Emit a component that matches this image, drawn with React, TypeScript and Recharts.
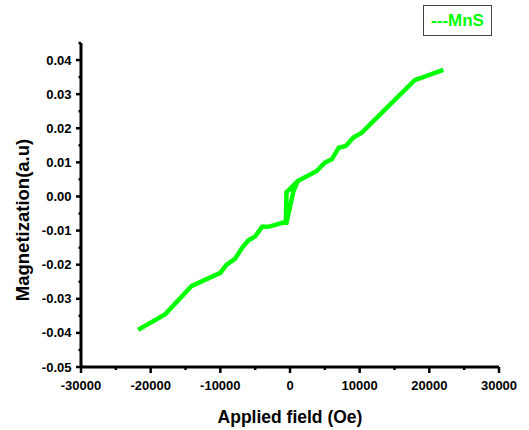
import { LineChart, Line, XAxis, YAxis, Label } from "recharts";

// M-H loop of MnS, increasing field branch
const fieldUp = [-21800, -17900, -14100, -10000, -9100, -7900, -6900, -6000, -5000, -4000, -3100, -1050, -600, -500, -100, 1100, 3800, 5000, 6000, 7000, 8000, 9100, 10300, 17900, 22000];
const momentUp = [-0.0391, -0.0345, -0.0262, -0.0224, -0.02, -0.0183, -0.0151, -0.0129, -0.0117, -0.0089, -0.0089, -0.0077, -0.0075, 0.0013, 0.002, 0.0045, 0.0074, 0.0099, 0.0109, 0.0143, 0.0148, 0.0173, 0.0187, 0.0341, 0.0371];

// decreasing field branch
const fieldDown = [22000, 17900, 10300, 9100, 8000, 7000, 6000, 5000, 3800, 1100, 500, 0, -500, -1050, -3100, -4000, -5000, -6000, -6900, -7900, -9100, -10000, -14100, -17900, -21800];
const momentDown = [0.0371, 0.0341, 0.0187, 0.0173, 0.0148, 0.0143, 0.0109, 0.0099, 0.0074, 0.0045, 0.0016, -0.003, -0.0077, -0.0077, -0.0089, -0.0089, -0.0117, -0.0129, -0.0151, -0.0183, -0.02, -0.0224, -0.0262, -0.0345, -0.0391];

const xMajorTicks = [-30000, -20000, -10000, 0, 10000, 20000, 30000];
const xMinorTicks = [-25000, -15000, -5000, 5000, 15000, 25000];
const yMajorTicks = [-0.05, -0.04, -0.03, -0.02, -0.01, 0, 0.01, 0.02, 0.03, 0.04];
const yMinorTicks = [-0.045, -0.035, -0.025, -0.015, -0.005, 0.005, 0.015, 0.025, 0.035, 0.045];

const seriesName = "MnS";
const green = "#00ff00";
const font = "Arial, 'Liberation Sans', sans-serif";

const rows = [
  ...fieldUp.map((f, i) => ({ field: f, moment: momentUp[i] })),
  ...fieldDown.map((f, i) => ({ field: f, moment: momentDown[i] })),
];

const XTick = (props: any) => {
  const { x, y, payload } = props;
  const major = xMajorTicks.includes(payload.value);
  return (
    <g>
      <line x1={x} x2={x} y1={y} y2={y + (major ? 6 : 3)} stroke="#000" strokeWidth={2.5} />
      {major && (
        <text x={x} y={y + 22.5} textAnchor="middle" fontFamily={font} fontWeight="bold" fontSize={13} fill="#000">
          {payload.value}
        </text>
      )}
    </g>
  );
};

const YTick = (props: any) => {
  const { x, y, payload } = props;
  const major = yMajorTicks.includes(payload.value);
  return (
    <g>
      <line x1={x} x2={x - (major ? 5 : 2.5)} y1={y} y2={y} stroke="#000" strokeWidth={2.5} />
      {major && (
        <text x={x - 9.5} y={y + 4.6} textAnchor="end" fontFamily={font} fontWeight="bold" fontSize={13} fill="#000">
          {payload.value.toFixed(2)}
        </text>
      )}
    </g>
  );
};

export default function App() {
  return (
    <div style={{ position: "absolute", left: 0, top: 0, width: 529, height: 430, background: "#fff" }}>
      <LineChart width={529} height={430} data={rows} margin={{ top: 43, right: 30, left: 21, bottom: 23 }}>
        <XAxis
          dataKey="field"
          type="number"
          domain={[-30000, 30000]}
          ticks={[...xMajorTicks, ...xMinorTicks].sort((a, b) => a - b)}
          interval={0}
          tickLine={false}
          tickSize={0}
          tickMargin={0}
          height={40}
          axisLine={{ stroke: "#000", strokeWidth: 3 }}
          tick={<XTick />}
        >
          <Label
            content={(p: any) => (
              <text
                x={p.viewBox.x + p.viewBox.width / 2}
                y={423}
                textAnchor="middle"
                fontFamily={font}
                fontWeight="bold"
                fontSize={17.5}
                fill="#000"
              >
                Applied field (Oe)
              </text>
            )}
          />
        </XAxis>
        <YAxis
          type="number"
          domain={[-0.05, 0.045]}
          ticks={[...yMajorTicks, ...yMinorTicks].sort((a, b) => a - b)}
          interval={0}
          tickLine={false}
          tickSize={0}
          tickMargin={0}
          width={60}
          axisLine={{ stroke: "#000", strokeWidth: 3 }}
          tick={<YTick />}
        >
          <Label
            content={(p: any) => (
              <text
                x={28.5}
                y={220}
                transform="rotate(-90 28.5 220)"
                textAnchor="middle"
                fontFamily={font}
                fontWeight="bold"
                fontSize={18.5}
                fill="#000"
              >
                Magnetization(a.u)
              </text>
            )}
          />
        </YAxis>
        <Line
          dataKey="moment"
          name={seriesName}
          stroke={green}
          strokeWidth={4.5}
          dot={false}
          type="linear"
          isAnimationActive={false}
        />
      </LineChart>
      <div
        style={{
          position: "absolute",
          left: 423,
          top: 5,
          width: 67,
          height: 29,
          border: "1px solid #444",
          boxSizing: "content-box",
          display: "flex",
          alignItems: "center",
          justifyContent: "center",
          fontFamily: font,
          fontWeight: "bold",
          fontSize: 17,
          color: green,
        }}
      >
        ---{seriesName}
      </div>
    </div>
  );
}
